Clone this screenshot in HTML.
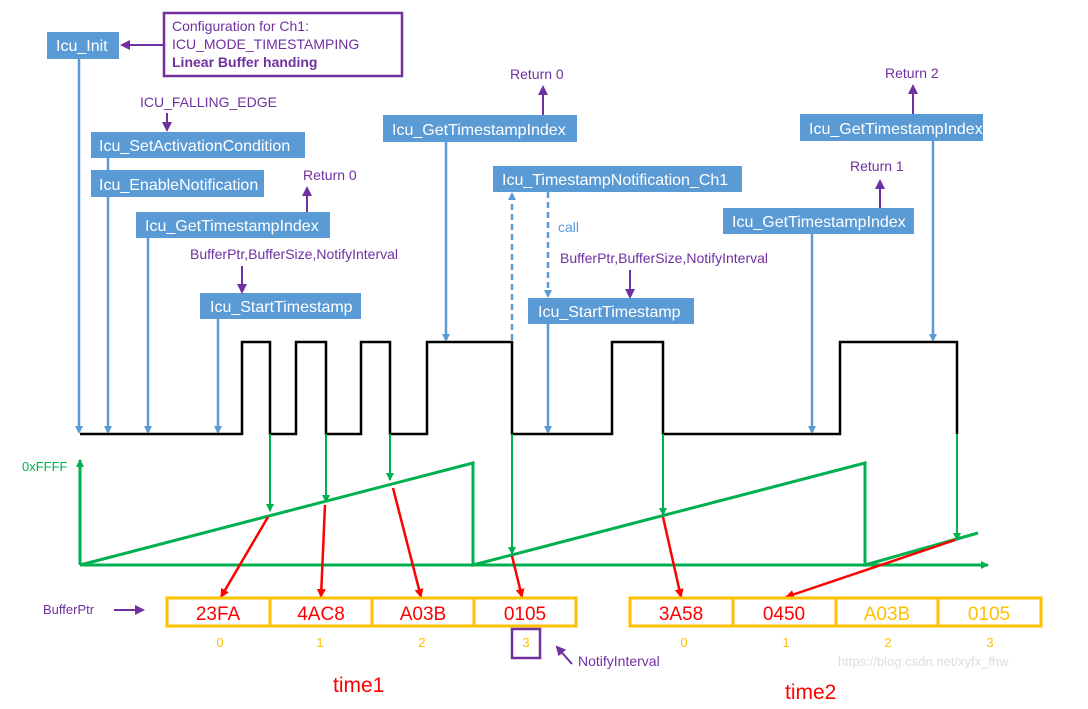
<!DOCTYPE html>
<html><head><meta charset="utf-8"><style>
body{margin:0;background:#fff}
svg{display:block;font-family:"Liberation Sans","DejaVu Sans",sans-serif}
.bx{fill:#5B9BD5}
.bt{fill:#fff;font-size:16px}
.pt{fill:#7030A0;font-size:14px}
</style></head><body>
<svg width="1088" height="709" viewBox="0 0 1088 709">
<defs>
<marker id="ab" markerWidth="8" markerHeight="8" refX="6" refY="4" orient="auto" markerUnits="userSpaceOnUse"><path d="M0,0L8,4L0,8z" fill="#5B9BD5"/></marker>
<marker id="ap" markerWidth="10" markerHeight="10" refX="8" refY="5" orient="auto" markerUnits="userSpaceOnUse"><path d="M0,0L10,5L0,10z" fill="#7030A0"/></marker>
<marker id="ag" markerWidth="8" markerHeight="8" refX="7" refY="4" orient="auto" markerUnits="userSpaceOnUse"><path d="M0,0L8,4L0,8z" fill="#00B050"/></marker>
<marker id="ar" markerWidth="9" markerHeight="9" refX="8" refY="4.5" orient="auto" markerUnits="userSpaceOnUse"><path d="M0,0L9,4.5L0,9z" fill="#FF0000"/></marker>
</defs>

<g>
<rect x="164" y="13" width="238" height="63" fill="#fff" stroke="#7030A0" stroke-width="2.5"/>
<text x="172" y="31" class="pt">Configuration for Ch1:</text>
<text x="172" y="49" class="pt">ICU_MODE_TIMESTAMPING</text>
<text x="172" y="67" class="pt" font-weight="bold">Linear Buffer handing</text>
</g>
<line x1="163" y1="45" x2="122" y2="45" stroke="#7030A0" stroke-width="2" marker-end="url(#ap)"/>

<g stroke="#5B9BD5" stroke-width="2.5" fill="none">
<line x1="79" y1="59" x2="79" y2="432" marker-end="url(#ab)"/>
<line x1="108" y1="158" x2="108" y2="432" marker-end="url(#ab)"/>
<line x1="148" y1="238" x2="148" y2="432" marker-end="url(#ab)"/>
<line x1="218" y1="319" x2="218" y2="432" marker-end="url(#ab)"/>
<line x1="446" y1="142" x2="446" y2="340" marker-end="url(#ab)"/>
<line x1="512" y1="340" x2="512" y2="194" stroke-dasharray="6,4" marker-end="url(#ab)"/>
<line x1="548" y1="192" x2="548" y2="296" stroke-dasharray="6,4" marker-end="url(#ab)"/>
<line x1="548" y1="324" x2="548" y2="432" marker-end="url(#ab)"/>
<line x1="812" y1="234" x2="812" y2="432" marker-end="url(#ab)"/>
<line x1="933" y1="141" x2="933" y2="340" marker-end="url(#ab)"/>
</g>
<text x="558" y="232" fill="#5B9BD5" font-size="14">call</text>

<g><rect class="bx" x="47" y="32" width="72" height="27"/><text class="bt" x="56" y="51">Icu_Init</text></g>
<g><rect class="bx" x="91" y="132" width="214" height="26"/><text class="bt" x="99" y="151">Icu_SetActivationCondition</text></g>
<g><rect class="bx" x="91" y="170" width="173" height="27"/><text class="bt" x="99" y="190">Icu_EnableNotification</text></g>
<g><rect class="bx" x="136" y="212" width="194" height="26"/><text class="bt" x="145" y="231">Icu_GetTimestampIndex</text></g>
<g><rect class="bx" x="200" y="293" width="161" height="26"/><text class="bt" x="210" y="312">Icu_StartTimestamp</text></g>
<g><rect class="bx" x="383" y="115" width="194" height="27"/><text class="bt" x="392" y="135">Icu_GetTimestampIndex</text></g>
<g><rect class="bx" x="493" y="166" width="249" height="26"/><text class="bt" x="502" y="185">Icu_TimestampNotification_Ch1</text></g>
<g><rect class="bx" x="528" y="298" width="166" height="26"/><text class="bt" x="538" y="317">Icu_StartTimestamp</text></g>
<g><rect class="bx" x="723" y="208" width="191" height="26"/><text class="bt" x="732" y="227">Icu_GetTimestampIndex</text></g>
<g><rect class="bx" x="800" y="114" width="183" height="27"/><text class="bt" x="809" y="134">Icu_GetTimestampIndex</text></g>

<text class="pt" x="140" y="107">ICU_FALLING_EDGE</text>
<line x1="167" y1="113" x2="167" y2="130" stroke="#7030A0" stroke-width="2" marker-end="url(#ap)"/>
<text class="pt" x="303" y="180">Return 0</text>
<line x1="307" y1="212" x2="307" y2="188" stroke="#7030A0" stroke-width="2" marker-end="url(#ap)"/>
<text class="pt" x="190" y="259">BufferPtr,BufferSize,NotifyInterval</text>
<line x1="242" y1="266" x2="242" y2="292" stroke="#7030A0" stroke-width="2" marker-end="url(#ap)"/>
<text class="pt" x="510" y="79">Return 0</text>
<line x1="543" y1="115" x2="543" y2="87" stroke="#7030A0" stroke-width="2" marker-end="url(#ap)"/>
<text class="pt" x="560" y="263">BufferPtr,BufferSize,NotifyInterval</text>
<line x1="630" y1="270" x2="630" y2="297" stroke="#7030A0" stroke-width="2" marker-end="url(#ap)"/>
<text class="pt" x="850" y="171">Return 1</text>
<line x1="880" y1="208" x2="880" y2="181" stroke="#7030A0" stroke-width="2" marker-end="url(#ap)"/>
<text class="pt" x="885" y="78">Return 2</text>
<line x1="913" y1="114" x2="913" y2="86" stroke="#7030A0" stroke-width="2" marker-end="url(#ap)"/>

<polyline fill="none" stroke="#000" stroke-width="2.5"
points="80,434 242,434 242,342 270,342 270,434 296,434 296,342 326,342 326,434 361,434 361,342 390,342 390,434 427,434 427,342 512,342 512,434 612,434 612,342 663,342 663,434 840,434 840,342 957,342 957,434"/>

<g stroke="#00B050" stroke-width="3" fill="none">
<line x1="80" y1="565" x2="80" y2="460" marker-end="url(#ag)"/>
<line x1="80" y1="565" x2="988" y2="565" marker-end="url(#ag)"/>
<polyline points="80,565 473,463 473,565 865,463 865,565 978,533"/>
</g>
<g stroke="#00B050" stroke-width="2" fill="none">
<line x1="270" y1="434" x2="270" y2="511" marker-end="url(#ag)"/>
<line x1="326" y1="434" x2="326" y2="502" marker-end="url(#ag)"/>
<line x1="390" y1="434" x2="390" y2="480" marker-end="url(#ag)"/>
<line x1="512" y1="434" x2="512" y2="554" marker-end="url(#ag)"/>
<line x1="663" y1="434" x2="663" y2="515" marker-end="url(#ag)"/>
<line x1="957" y1="434" x2="957" y2="540" marker-end="url(#ag)"/>
</g>
<text x="22" y="471" fill="#00B050" font-size="13">0xFFFF</text>

<g stroke="#FF0000" stroke-width="2.5">
<line x1="268" y1="517" x2="221" y2="597" marker-end="url(#ar)"/>
<line x1="325" y1="505" x2="321" y2="597" marker-end="url(#ar)"/>
<line x1="393" y1="488" x2="421" y2="597" marker-end="url(#ar)"/>
<line x1="512" y1="556" x2="522" y2="597" marker-end="url(#ar)"/>
<line x1="663" y1="517" x2="681" y2="597" marker-end="url(#ar)"/>
<line x1="955" y1="540" x2="786" y2="597" marker-end="url(#ar)"/>
</g>

<g stroke="#FFC000" stroke-width="3" fill="#fff">
<rect x="167" y="598" width="409" height="28"/>
<line x1="270" y1="598" x2="270" y2="626"/><line x1="372" y1="598" x2="372" y2="626"/><line x1="474" y1="598" x2="474" y2="626"/>
</g>
<g stroke="#FFC000" stroke-width="3" fill="#fff">
<rect x="630" y="598" width="411" height="28"/>
<line x1="733" y1="598" x2="733" y2="626"/><line x1="836" y1="598" x2="836" y2="626"/><line x1="938" y1="598" x2="938" y2="626"/>
</g>
<g font-size="19" text-anchor="middle">
<text x="218" y="620" fill="#FF0000">23FA</text>
<text x="321" y="620" fill="#FF0000">4AC8</text>
<text x="423" y="620" fill="#FF0000">A03B</text>
<text x="525" y="620" fill="#FF0000">0105</text>
<text x="681" y="620" fill="#FF0000">3A58</text>
<text x="784" y="620" fill="#FF0000">0450</text>
<text x="887" y="620" fill="#FFC000">A03B</text>
<text x="989" y="620" fill="#FFC000">0105</text>
</g>
<g font-size="13" fill="#FFC000" text-anchor="middle">
<text x="220" y="647">0</text><text x="320" y="647">1</text><text x="422" y="647">2</text><text x="526" y="647">3</text>
<text x="684" y="647">0</text><text x="786" y="647">1</text><text x="888" y="647">2</text><text x="990" y="647">3</text>
</g>
<rect x="512" y="629" width="28" height="29" fill="none" stroke="#7030A0" stroke-width="2.5"/>
<line x1="572" y1="664" x2="557" y2="647" stroke="#7030A0" stroke-width="2" marker-end="url(#ap)"/>
<text class="pt" x="578" y="666" font-size="13">NotifyInterval</text>
<text x="43" y="614" fill="#7030A0" font-size="13">BufferPtr</text>
<line x1="114" y1="610" x2="143" y2="610" stroke="#7030A0" stroke-width="2" marker-end="url(#ap)"/>
<text x="333" y="692" fill="#FF0000" font-size="21">time1</text>
<text x="785" y="699" fill="#FF0000" font-size="21">time2</text>
<text x="838" y="666" fill="#dddddd" font-size="13">https://blog.csdn.net/xyfx_fhw</text>
</svg>
</body></html>
